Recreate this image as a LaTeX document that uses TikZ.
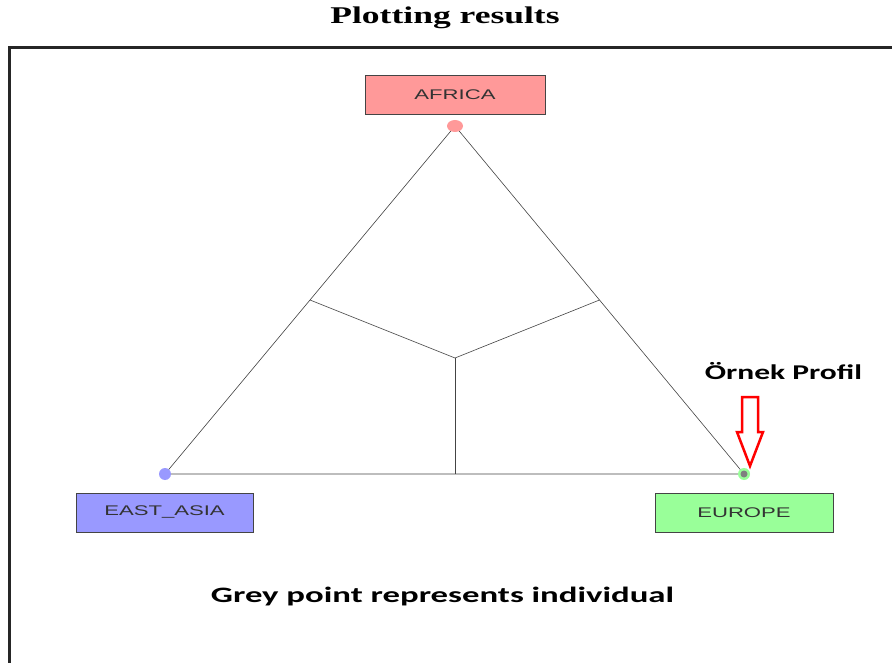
\documentclass[tikz,border=0pt]{standalone}
\usepackage{fontspec}
\setmainfont{Liberation Serif}
\newfontfamily\arialf{Liberation Sans}
\newfontfamily\calib{Carlito}
\usepackage{graphicx}
\definecolor{afr}{HTML}{FF9999}
\definecolor{eas}{HTML}{9999FF}
\definecolor{eur}{HTML}{99FF99}
\definecolor{edge}{HTML}{444444}
\tikzset{
  region/.style={draw=edge, line width=0.8pt, minimum width=180pt, minimum height=39pt, inner sep=0pt, text=black!80},
  tri/.style={draw=edge, line width=0.6pt},
  lbl/.style={inner sep=0pt, anchor=center}
}
\begin{document}
\begin{tikzpicture}[x=1pt,y=-1pt]
\useasboundingbox (0,0) rectangle (892,663);
\fill[white] (0,0) rectangle (892,663);
% frame
\draw[line width=3pt, black!85] (9,663) -- (9,48) -- (892,48);
% title
\node[lbl] (title) at (445,18) {\scalebox{1.48}[1]{\fontsize{24}{28}\selectfont\bfseries Plotting results}};
% vertices
\coordinate (A) at (455,126);
\coordinate (E) at (165,474);
\coordinate (U) at (744,474);
\coordinate (C) at (455,358);
\coordinate (mL) at (310,300);
\coordinate (mR) at (599.5,300);
\coordinate (mB) at (455,474);
\draw[tri] (A) -- (E) -- (U) -- cycle;
\draw[tri] (C) -- (mL);
\draw[tri] (C) -- (mR);
\draw[tri] (C) -- (mB);
% dots
\fill[afr] (A) ellipse [x radius=8, y radius=6];
\fill[eas] (E) circle [radius=6];
\fill[eur] (U) circle [radius=6];
\fill[gray] (U) circle [radius=3.5];
% boxes
\node[region, fill=afr] (africa) at (455,95) {\arialf\scalebox{1.58}[1]{\fontsize{14}{16}\selectfont AFRICA}};
\node[region, fill=eas, minimum width=177pt] (eastasia) at (164.5,512.5) {\arialf\scalebox{1.58}[1]{\fontsize{14}{16}\selectfont EAST\_ASIA}};
\node[region, fill=eur, minimum width=178pt] (europe) at (744,512.5) {\arialf\scalebox{1.58}[1]{\fontsize{14}{16}\selectfont EUROPE}};
% label and arrow
\node[lbl] (ornek) at (783.5,371) {\calib\scalebox{1.5}[1]{\fontsize{21}{24}\selectfont\bfseries Örnek Profil}};
\draw[red, line width=2.5pt, line join=miter] (742,397) -- (758,397) -- (758,432) -- (763,432) -- (750,466) -- (737,432) -- (742,432) -- cycle;
% caption
\node[lbl] (caption) at (442.5,597) {\calib\scalebox{1.58}[1]{\fontsize{22}{26}\selectfont\bfseries Grey point represents individual}};
\end{tikzpicture}
\end{document}
